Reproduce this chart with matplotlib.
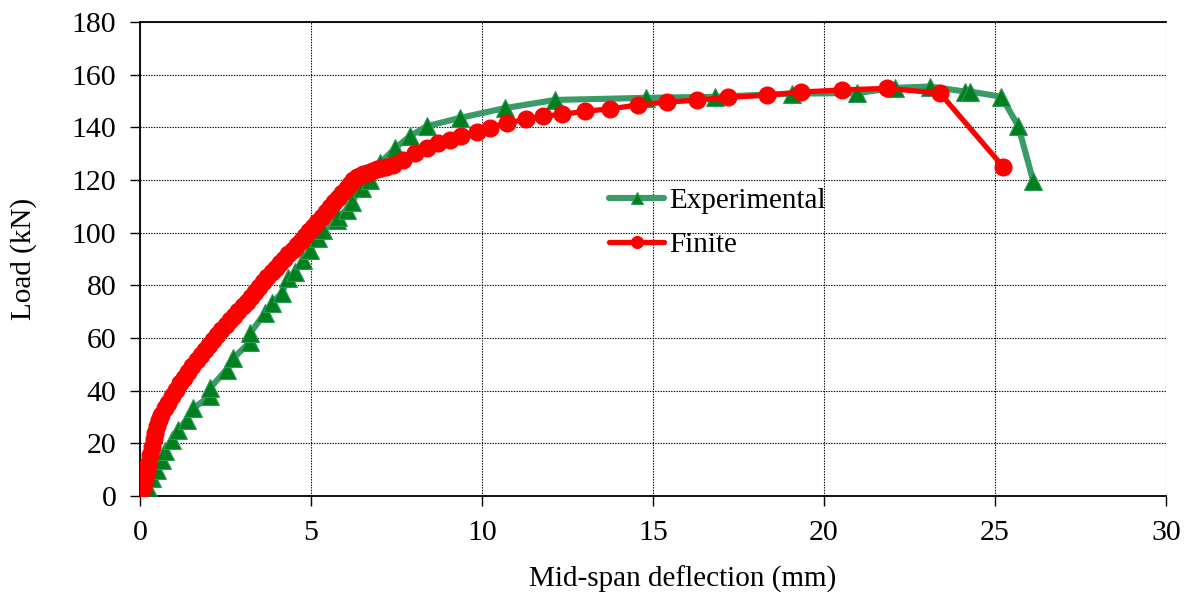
import matplotlib
matplotlib.use("Agg")
import matplotlib.pyplot as plt

# Experimental data (mm, kN)
exp_x = [0.0, 0.24, 0.34, 0.49, 0.63, 0.73, 0.93, 1.12, 1.36, 1.56, 2.05, 2.05,
         2.53, 2.73, 3.22, 3.22, 3.65, 3.85, 4.14, 4.34, 4.53, 4.77, 4.97, 5.21,
         5.36, 5.75, 5.80, 6.04, 6.19, 6.48, 6.73, 7.02, 7.46, 7.89, 8.38, 9.36,
         10.67, 12.13, 14.80, 16.80, 19.05, 20.96, 22.08, 23.10, 24.12, 24.27,
         25.19, 25.68, 26.12]
exp_y = [0.0, 3.0, 6.7, 10.0, 13.7, 17.0, 21.3, 25.0, 29.0, 33.3, 38.0, 41.0,
         48.0, 52.3, 58.6, 61.8, 69.4, 73.2, 77.0, 82.7, 85.2, 89.6, 93.4, 97.9,
         101.0, 104.8, 106.0, 108.6, 111.8, 116.8, 120.0, 126.4, 132.1, 136.6,
         140.4, 143.6, 147.3, 150.4, 151.2, 151.6, 152.8, 153.0, 155.0, 155.5,
         153.6, 153.6, 151.6, 140.5, 119.5]

# Finite element data (mm, kN)
fe_x = [0.00, 0.08, 0.15, 0.20, 0.24, 0.30, 0.34, 0.40, 0.44, 0.49, 0.55, 0.62,
        0.73, 0.82, 0.93, 1.05, 1.17, 1.29, 1.41, 1.53, 1.66, 1.78, 1.90, 2.02,
        2.14, 2.26, 2.38, 2.50, 2.63, 2.75, 2.87, 3.00, 3.12, 3.24, 3.36, 3.48,
        3.60, 3.72, 3.85, 3.97, 4.09, 4.21, 4.33, 4.46, 4.58, 4.70, 4.82, 4.95,
        5.07, 5.19, 5.31, 5.44, 5.56, 5.68, 5.80, 5.92, 6.04, 6.14, 6.24, 6.34,
        6.43, 6.53, 6.65, 6.78, 6.92, 7.05, 7.20, 7.40, 7.70, 8.04, 8.38, 8.72,
        9.06, 9.40, 9.84, 10.23, 10.72, 11.30, 11.79, 12.33, 13.00, 13.74, 14.57,
        15.40, 16.28, 17.20, 18.32, 19.34, 20.52, 21.83, 23.39, 25.24]
fe_y = [0.0, 3.0, 6.5, 9.5, 12.0, 15.5, 18.5, 21.5, 24.0, 26.5, 28.8, 30.8,
        33.3, 35.3, 37.8, 40.3, 42.8, 45.0, 47.2, 49.4, 51.6, 53.5, 55.4, 57.3,
        59.2, 61.1, 63.0, 64.9, 66.8, 68.5, 70.3, 72.0, 73.8, 75.7, 77.6, 79.5,
        81.4, 83.1, 84.9, 86.6, 88.4, 90.1, 91.8, 93.6, 95.3, 97.0, 98.8, 100.5,
        102.3, 104.2, 106.1, 108.0, 109.9, 111.6, 113.3, 115.0, 116.8, 118.5,
        120.0, 121.0, 121.6, 122.1, 122.8, 123.4, 124.0, 124.6, 125.1, 125.7,
        127.6, 130.2, 132.1, 134.0, 135.3, 136.6, 138.4, 139.8, 141.7, 143.0,
        144.2, 144.9, 146.1, 147.0, 148.5, 149.6, 150.3, 151.4, 152.2, 153.4,
        154.2, 154.8, 153.0, 125.0]

x_ticks = [0, 5, 10, 15, 20, 25, 30]
y_ticks = [0, 20, 40, 60, 80, 100, 120, 140, 160, 180]

plt.rcParams['font.family'] = ['Liberation Serif', 'DejaVu Serif']

fig = plt.figure(figsize=(11.86, 5.92), dpi=100)
ax = fig.add_axes([140/1186, 1 - 496/592, 1026/1186, 474/592])

ax.plot(exp_x, exp_y, color='#3a9a68', lw=4.4, marker='^', markersize=12.5,
        markerfacecolor='#007f1e', markeredgecolor='#2e9a5a', markeredgewidth=0.8,
        label='Experimental', zorder=3, solid_joinstyle='round', solid_capstyle='round')
ax.plot(fe_x, fe_y, color='#ff0000', lw=3.8, marker='o', markersize=12,
        markerfacecolor='#ff0000', markeredgecolor='#ff0000',
        label='Finite', zorder=4, solid_joinstyle='round', solid_capstyle='round')

ax.set_xlim(0, 30)
ax.set_ylim(0, 180)
ax.set_xticks(x_ticks)
ax.set_yticks(y_ticks)
ax.grid(True, color='black', linestyle=(0, (1.2, 1.2)), linewidth=0.8)
ax.set_axisbelow(True)

for s in ['left', 'bottom', 'top']:
    ax.spines[s].set_color('black')
    ax.spines[s].set_linewidth(1.3)
ax.spines['right'].set_visible(False)

ax.tick_params(axis='both', direction='out', length=7, width=1, labelsize=21.5,
               colors='black')
ax.tick_params(axis='y', pad=10)
ax.tick_params(axis='x', pad=10)

ax.set_xlabel('Mid-span deflection (mm)', fontsize=21)
ax.set_ylabel('Load (kN)', fontsize=21)
ax.xaxis.set_label_coords(0.529, -0.148)
ax.yaxis.set_label_coords(-0.1, 0.5)

leg = ax.legend(loc='center left', bbox_to_anchor=(0.457, 0.576), frameon=False,
                fontsize=21, handlelength=1.9, handletextpad=0.17, labelspacing=0.6,
                borderpad=0, borderaxespad=0, markerscale=0.7)

fig.savefig('out.png', dpi=100)
